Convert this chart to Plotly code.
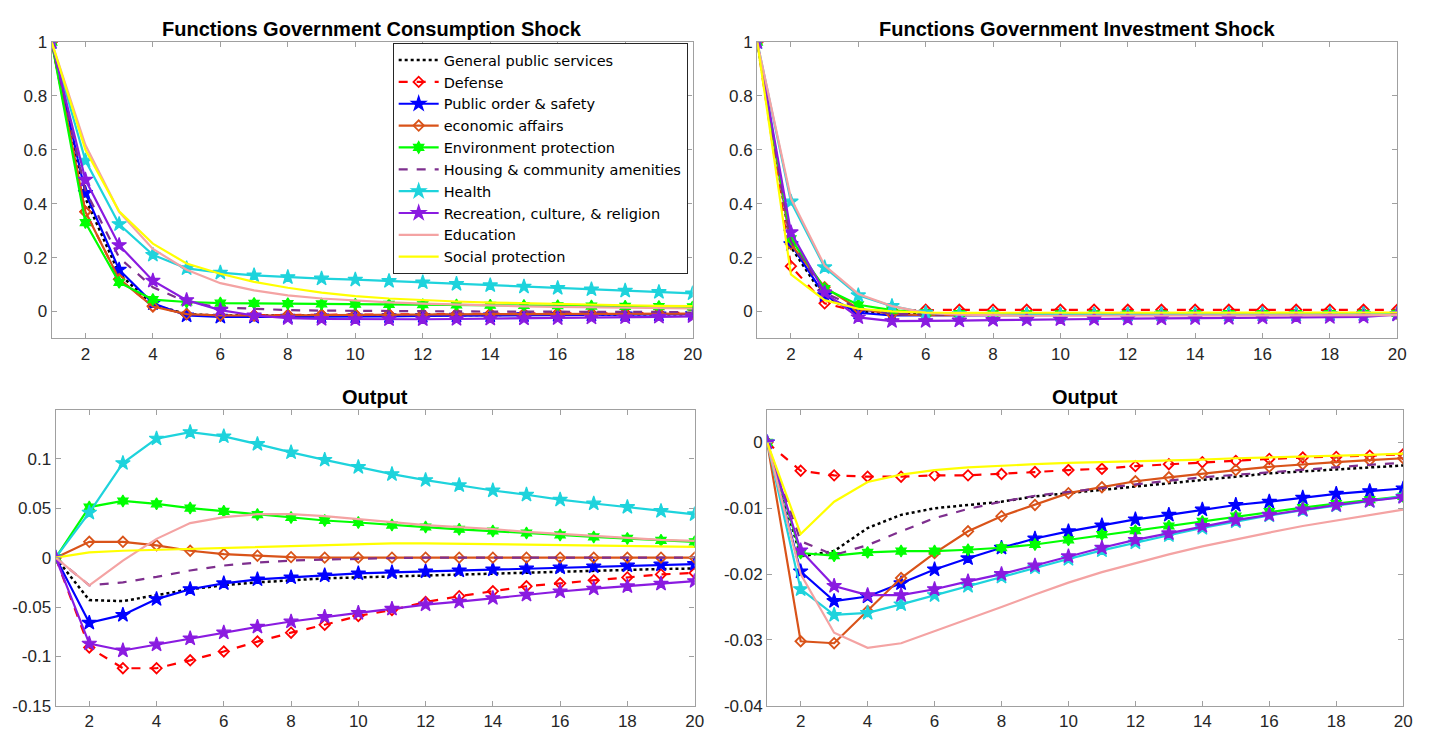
import plotly.graph_objects as go

W, H = 1441, 745
periods = list(range(1, 21))

names = [
    "General public services",
    "Defense",
    "Public order & safety",
    "economic affairs",
    "Environment protection",
    "Housing & community amenities",
    "Health",
    "Recreation, culture, & religion",
    "Education",
    "Social protection",
]

# Impulse responses: government consumption shock (own response)
cons_shock = {
    "General public services": [1, 0.42, 0.14, 0.025, -0.01, -0.015, -0.015, -0.015, -0.015, -0.015, -0.014, -0.014, -0.013, -0.013, -0.012, -0.012, -0.011, -0.011, -0.01, -0.01],
    "Defense": [1, 0.37, 0.12, 0.02, -0.01, -0.015, -0.014, -0.013, -0.012, -0.011, -0.01, -0.01, -0.009, -0.008, -0.008, -0.007, -0.007, -0.006, -0.006, -0.005],
    "Public order & safety": [1, 0.44, 0.155, 0.03, -0.015, -0.02, -0.02, -0.02, -0.019, -0.019, -0.018, -0.017, -0.016, -0.015, -0.014, -0.013, -0.012, -0.011, -0.011, -0.01],
    "economic affairs": [1, 0.37, 0.12, 0.018, -0.01, -0.015, -0.015, -0.014, -0.013, -0.012, -0.012, -0.011, -0.011, -0.01, -0.01, -0.01, -0.009, -0.009, -0.009, -0.008],
    "Environment protection": [1, 0.33, 0.108, 0.044, 0.035, 0.031, 0.03, 0.029, 0.028, 0.027, 0.026, 0.025, 0.024, 0.023, 0.022, 0.021, 0.02, 0.019, 0.018, 0.017],
    "Housing & community amenities": [1, 0.45, 0.2, 0.09, 0.035, 0.015, 0.01, 0.005, 0.003, 0.002, 0.001, 0.0, 0.0, -0.001, -0.001, -0.001, -0.002, -0.002, -0.002, -0.002],
    "Health": [1, 0.56, 0.324, 0.21, 0.16, 0.144, 0.134, 0.127, 0.122, 0.118, 0.113, 0.108, 0.102, 0.097, 0.092, 0.087, 0.082, 0.077, 0.072, 0.067],
    "Recreation, culture, & religion": [1, 0.489, 0.246, 0.114, 0.042, 0.005, -0.015, -0.025, -0.028, -0.029, -0.029, -0.029, -0.028, -0.027, -0.026, -0.025, -0.023, -0.022, -0.02, -0.018],
    "Education": [1, 0.618, 0.37, 0.232, 0.155, 0.105, 0.078, 0.06, 0.048, 0.04, 0.034, 0.029, 0.025, 0.022, 0.019, 0.017, 0.015, 0.013, 0.012, 0.011],
    "Social protection": [1, 0.60, 0.372, 0.252, 0.178, 0.14, 0.11, 0.088, 0.07, 0.057, 0.048, 0.042, 0.037, 0.033, 0.03, 0.027, 0.025, 0.023, 0.021, 0.02],
}

# Impulse responses: government investment shock (own response)
inv_shock = {
    "General public services": [1, 0.24, 0.05, 0.0, -0.01, -0.012, -0.012, -0.012, -0.012, -0.012, -0.012, -0.011, -0.011, -0.011, -0.011, -0.01, -0.01, -0.01, -0.01, -0.01],
    "Defense": [1, 0.168, 0.03, 0.0, 0.004, 0.006, 0.006, 0.006, 0.006, 0.006, 0.006, 0.006, 0.006, 0.006, 0.006, 0.006, 0.006, 0.006, 0.006, 0.006],
    "Public order & safety": [1, 0.25, 0.06, -0.005, -0.015, -0.015, -0.014, -0.014, -0.013, -0.013, -0.013, -0.012, -0.012, -0.012, -0.011, -0.011, -0.011, -0.01, -0.01, -0.01],
    "economic affairs": [1, 0.25, 0.09, 0.01, -0.01, -0.014, -0.014, -0.013, -0.013, -0.012, -0.012, -0.012, -0.011, -0.011, -0.011, -0.01, -0.01, -0.01, -0.01, -0.009],
    "Environment protection": [1, 0.27, 0.085, 0.025, 0.005, -0.005, -0.008, -0.009, -0.009, -0.009, -0.009, -0.009, -0.009, -0.008, -0.008, -0.008, -0.008, -0.008, -0.007, -0.007],
    "Housing & community amenities": [1, 0.26, 0.07, 0.01, -0.008, -0.012, -0.012, -0.012, -0.012, -0.011, -0.011, -0.011, -0.011, -0.01, -0.01, -0.01, -0.01, -0.01, -0.009, -0.009],
    "Health": [1, 0.408, 0.164, 0.06, 0.02, -0.005, -0.01, -0.012, -0.012, -0.012, -0.012, -0.012, -0.011, -0.011, -0.011, -0.011, -0.011, -0.01, -0.01, -0.01],
    "Recreation, culture, & religion": [1, 0.294, 0.07, -0.022, -0.036, -0.036, -0.034, -0.032, -0.03, -0.029, -0.028, -0.027, -0.026, -0.025, -0.024, -0.023, -0.022, -0.021, -0.02, -0.012],
    "Education": [1, 0.42, 0.17, 0.065, 0.02, -0.005, -0.012, -0.015, -0.016, -0.016, -0.016, -0.016, -0.016, -0.015, -0.015, -0.015, -0.015, -0.014, -0.014, -0.014],
    "Social protection": [1, 0.138, 0.042, 0.01, 0.0, -0.004, -0.005, -0.005, -0.005, -0.005, -0.005, -0.005, -0.005, -0.005, -0.005, -0.005, -0.004, -0.004, -0.004, -0.004],
}

# Output response to the consumption shocks
cons_output = {
    "General public services": [0, -0.043, -0.044, -0.038, -0.032, -0.028, -0.025, -0.023, -0.021, -0.02, -0.019, -0.018, -0.017, -0.016, -0.015, -0.014, -0.013, -0.012, -0.0115, -0.011],
    "Defense": [0, -0.091, -0.112, -0.112, -0.104, -0.095, -0.085, -0.076, -0.068, -0.059, -0.053, -0.045, -0.039, -0.034, -0.029, -0.026, -0.023, -0.02, -0.017, -0.0155],
    "Public order & safety": [0, -0.066, -0.058, -0.042, -0.032, -0.026, -0.022, -0.02, -0.018, -0.016, -0.015, -0.014, -0.013, -0.012, -0.011, -0.01, -0.009, -0.008, -0.007, -0.0065],
    "economic affairs": [0, 0.016, 0.016, 0.0125, 0.007, 0.0036, 0.002, 0.0005, 0.0, 0.0, 0.0, 0.0, 0.0, 0.0, 0.0, 0.0, 0.0, 0.0, 0.0, 0.0],
    "Environment protection": [0, 0.0512, 0.0574, 0.0545, 0.0502, 0.0469, 0.0436, 0.0406, 0.0376, 0.0356, 0.033, 0.031, 0.0287, 0.027, 0.025, 0.023, 0.021, 0.0195, 0.0175, 0.016],
    "Housing & community amenities": [0, -0.028, -0.025, -0.0195, -0.013, -0.008, -0.005, -0.003, -0.002, -0.001, -0.0005, 0.0, 0.0, 0.0, 0.0, 0.0, 0.0, 0.0, 0.0, 0.0],
    "Health": [0, 0.0455, 0.0957, 0.1205, 0.127, 0.1228, 0.115, 0.1066, 0.099, 0.0917, 0.0845, 0.0785, 0.0733, 0.068, 0.0637, 0.0587, 0.0548, 0.0512, 0.0472, 0.0439],
    "Recreation, culture, & religion": [0, -0.0871, -0.094, -0.088, -0.0818, -0.0759, -0.07, -0.0647, -0.06, -0.056, -0.0518, -0.0475, -0.0446, -0.041, -0.0376, -0.0343, -0.0314, -0.029, -0.0264, -0.0238],
    "Education": [0, -0.028, -0.003, 0.019, 0.035, 0.041, 0.044, 0.044, 0.042, 0.039, 0.036, 0.033, 0.031, 0.029, 0.026, 0.024, 0.022, 0.02, 0.018, 0.017],
    "Social protection": [0, 0.0053, 0.007, 0.008, 0.009, 0.010, 0.011, 0.012, 0.013, 0.014, 0.0145, 0.0145, 0.014, 0.0138, 0.0135, 0.013, 0.0125, 0.012, 0.0115, 0.011],
}

# Output response to the investment shocks
inv_output = {
    "General public services": [0, -0.0173, -0.0165, -0.013, -0.011, -0.01, -0.0095, -0.009, -0.0082, -0.0077, -0.0072, -0.0067, -0.0062, -0.0057, -0.0052, -0.0047, -0.0044, -0.0041, -0.0038, -0.0035],
    "Defense": [0, -0.0043, -0.005, -0.0052, -0.0052, -0.005, -0.005, -0.0048, -0.0045, -0.0042, -0.004, -0.0036, -0.0033, -0.003, -0.0028, -0.0025, -0.0023, -0.0022, -0.002, -0.0018],
    "Public order & safety": [0, -0.0196, -0.0241, -0.0234, -0.0214, -0.0193, -0.0176, -0.016, -0.0146, -0.0135, -0.0126, -0.0117, -0.011, -0.0102, -0.0095, -0.009, -0.0084, -0.0078, -0.0074, -0.007],
    "economic affairs": [0, -0.0302, -0.0305, -0.0256, -0.0206, -0.0168, -0.0135, -0.0112, -0.0095, -0.0077, -0.0068, -0.0059, -0.0053, -0.0047, -0.0042, -0.0037, -0.0033, -0.003, -0.0027, -0.0024],
    "Environment protection": [0, -0.0168, -0.0172, -0.0167, -0.0165, -0.0165, -0.0163, -0.016, -0.0155, -0.0148, -0.014, -0.0134, -0.0127, -0.012, -0.0112, -0.0105, -0.0099, -0.0093, -0.0087, -0.0082],
    "Housing & community amenities": [0, -0.015, -0.0171, -0.0156, -0.0135, -0.0115, -0.0101, -0.009, -0.0081, -0.0075, -0.0069, -0.0063, -0.0058, -0.0053, -0.0049, -0.0045, -0.0041, -0.0037, -0.0034, -0.0031],
    "Health": [0, -0.0223, -0.0262, -0.0259, -0.0246, -0.0232, -0.0218, -0.0204, -0.019, -0.0177, -0.0164, -0.0152, -0.0141, -0.013, -0.012, -0.0111, -0.0103, -0.0096, -0.0089, -0.0082],
    "Recreation, culture, & religion": [0, -0.0164, -0.0218, -0.0232, -0.0232, -0.0223, -0.0211, -0.02, -0.0187, -0.0173, -0.016, -0.0148, -0.0138, -0.0127, -0.0118, -0.011, -0.0102, -0.0095, -0.0089, -0.0083],
    "Education": [0, -0.02, -0.0289, -0.0312, -0.0305, -0.0287, -0.0268, -0.025, -0.0231, -0.0213, -0.0197, -0.0183, -0.017, -0.0158, -0.0147, -0.0137, -0.0127, -0.0119, -0.0111, -0.0102],
    "Social protection": [0, -0.0139, -0.009, -0.006, -0.0049, -0.0042, -0.0038, -0.0035, -0.0033, -0.0031, -0.003, -0.0029, -0.0027, -0.0026, -0.0024, -0.0023, -0.0021, -0.002, -0.0019, -0.0017],
}

# Line and marker style per government function
styles = {
    "General public services": dict(color="#000000", dash="dot", symbol=None, width=2.5),
    "Defense": dict(color="#FF0000", dash="dash", symbol="diamond-open", width=2.2),
    "Public order & safety": dict(color="#0000FF", dash="solid", symbol="star", width=2.2),
    "economic affairs": dict(color="#D95319", dash="solid", symbol="diamond-open", width=2.2),
    "Environment protection": dict(color="#00FF00", dash="solid", symbol="hexagram", width=2.2),
    "Housing & community amenities": dict(color="#7E2F8E", dash="dash", symbol=None, width=2.2),
    "Health": dict(color="#1ED3DC", dash="solid", symbol="star", width=2.2),
    "Recreation, culture, & religion": dict(color="#8A1BE0", dash="solid", symbol="star", width=2.2),
    "Education": dict(color="#F4A3A3", dash="solid", symbol=None, width=2.2),
    "Social protection": dict(color="#FFFF00", dash="solid", symbol=None, width=2.2),
}

panels = [
    ("x", "y", cons_shock, True),
    ("x2", "y2", inv_shock, False),
    ("x3", "y3", cons_output, False),
    ("x4", "y4", inv_output, False),
]

fig = go.Figure()
for xa, ya, data, show in panels:
    for name in names:
        st = styles[name]
        mode = "lines+markers" if st["symbol"] else "lines"
        marker = {}
        if st["symbol"]:
            if st["symbol"] == "star":
                size, lw = 11, 1.2
            elif st["symbol"] == "hexagram":
                size, lw = 9, 1.2
            else:
                size, lw = 8, 1.8
            marker = dict(symbol=st["symbol"], size=size, color=st["color"],
                          line=dict(color=st["color"], width=lw))
        fig.add_trace(go.Scatter(
            x=periods, y=data[name], name=name, mode=mode,
            xaxis=xa, yaxis=ya, showlegend=show, legendgroup=name,
            line=dict(color=st["color"], dash=st["dash"], width=st["width"]),
            marker=marker,
        ))


def px_x(a, b):
    return [a / W, b / W]


def px_y(top, bottom):
    return [1 - bottom / H, 1 - top / H]


axis_font = dict(family="Liberation Sans, Arial, sans-serif", size=17, color="#262626")
common_x = dict(range=[1, 20], tickvals=list(range(2, 21, 2)), ticks="inside", ticklen=5,
                tickcolor="#A0A0A0", showline=True, linecolor="#A0A0A0", linewidth=1.3,
                mirror="ticks", showgrid=False, zeroline=False, tickfont=axis_font)
common_y = dict(ticks="inside", ticklen=5, tickcolor="#A0A0A0", showline=True,
                linecolor="#A0A0A0", linewidth=1.3, mirror="ticks", showgrid=False,
                zeroline=False, tickfont=axis_font)

shock_ticks = [0, 0.2, 0.4, 0.6, 0.8, 1]
shock_text = ["0", "0.2", "0.4", "0.6", "0.8", "1"]
cons_out_ticks = [-0.15, -0.1, -0.05, 0, 0.05, 0.1]
cons_out_text = ["-0.15", "-0.1", "-0.05", "0", "0.05", "0.1"]
inv_out_ticks = [-0.04, -0.03, -0.02, -0.01, 0]
inv_out_text = ["-0.04", "-0.03", "-0.02", "-0.01", "0"]

fig.update_layout(
    width=W, height=H,
    margin=dict(l=0, r=0, t=0, b=0),
    paper_bgcolor="white", plot_bgcolor="white",
    font=dict(family="Liberation Sans, Arial, sans-serif"),
    xaxis=dict(common_x, domain=px_x(52, 697), anchor="y"),
    yaxis=dict(common_y, domain=px_y(34, 338), anchor="x", range=[-0.1, 1],
               tickvals=shock_ticks, ticktext=shock_text),
    xaxis2=dict(common_x, domain=px_x(762, 1406), anchor="y2"),
    yaxis2=dict(common_y, domain=px_y(34, 338), anchor="x2", range=[-0.1, 1],
                tickvals=shock_ticks, ticktext=shock_text),
    xaxis3=dict(common_x, domain=px_x(56, 699), anchor="y3"),
    yaxis3=dict(common_y, domain=px_y(411, 715), anchor="x3", range=[-0.15, 0.15],
                tickvals=cons_out_ticks, ticktext=cons_out_text),
    xaxis4=dict(common_x, domain=px_x(772, 1412), anchor="y4"),
    yaxis4=dict(common_y, domain=px_y(411, 715), anchor="x4", range=[-0.04, 0.005],
                tickvals=inv_out_ticks, ticktext=inv_out_text),
    legend=dict(
        x=692 / W, y=1 - 35 / H, xanchor="right", yanchor="top",
        bgcolor="white", bordercolor="#262626", borderwidth=1,
        font=dict(family="DejaVu Sans, Liberation Sans, sans-serif", size=14.5, color="#000000"),
        tracegroupgap=0, itemwidth=40,
    ),
)

title_font = dict(family="Liberation Sans, Arial, sans-serif", size=20, color="#000000")
titles = [
    ("<b>Functions Government Consumption Shock</b>", (52 + 697) / 2, 21),
    ("<b>Functions Government Investment Shock</b>", (762 + 1406) / 2, 21),
    ("<b>Output</b>", (56 + 699) / 2, 398),
    ("<b>Output</b>", (772 + 1412) / 2, 398),
]
for text, cx, cy in titles:
    fig.add_annotation(text=text, x=cx / W, y=1 - cy / H, xref="paper", yref="paper",
                       showarrow=False, font=title_font, xanchor="center", yanchor="middle")

fig.write_html("out.html")
